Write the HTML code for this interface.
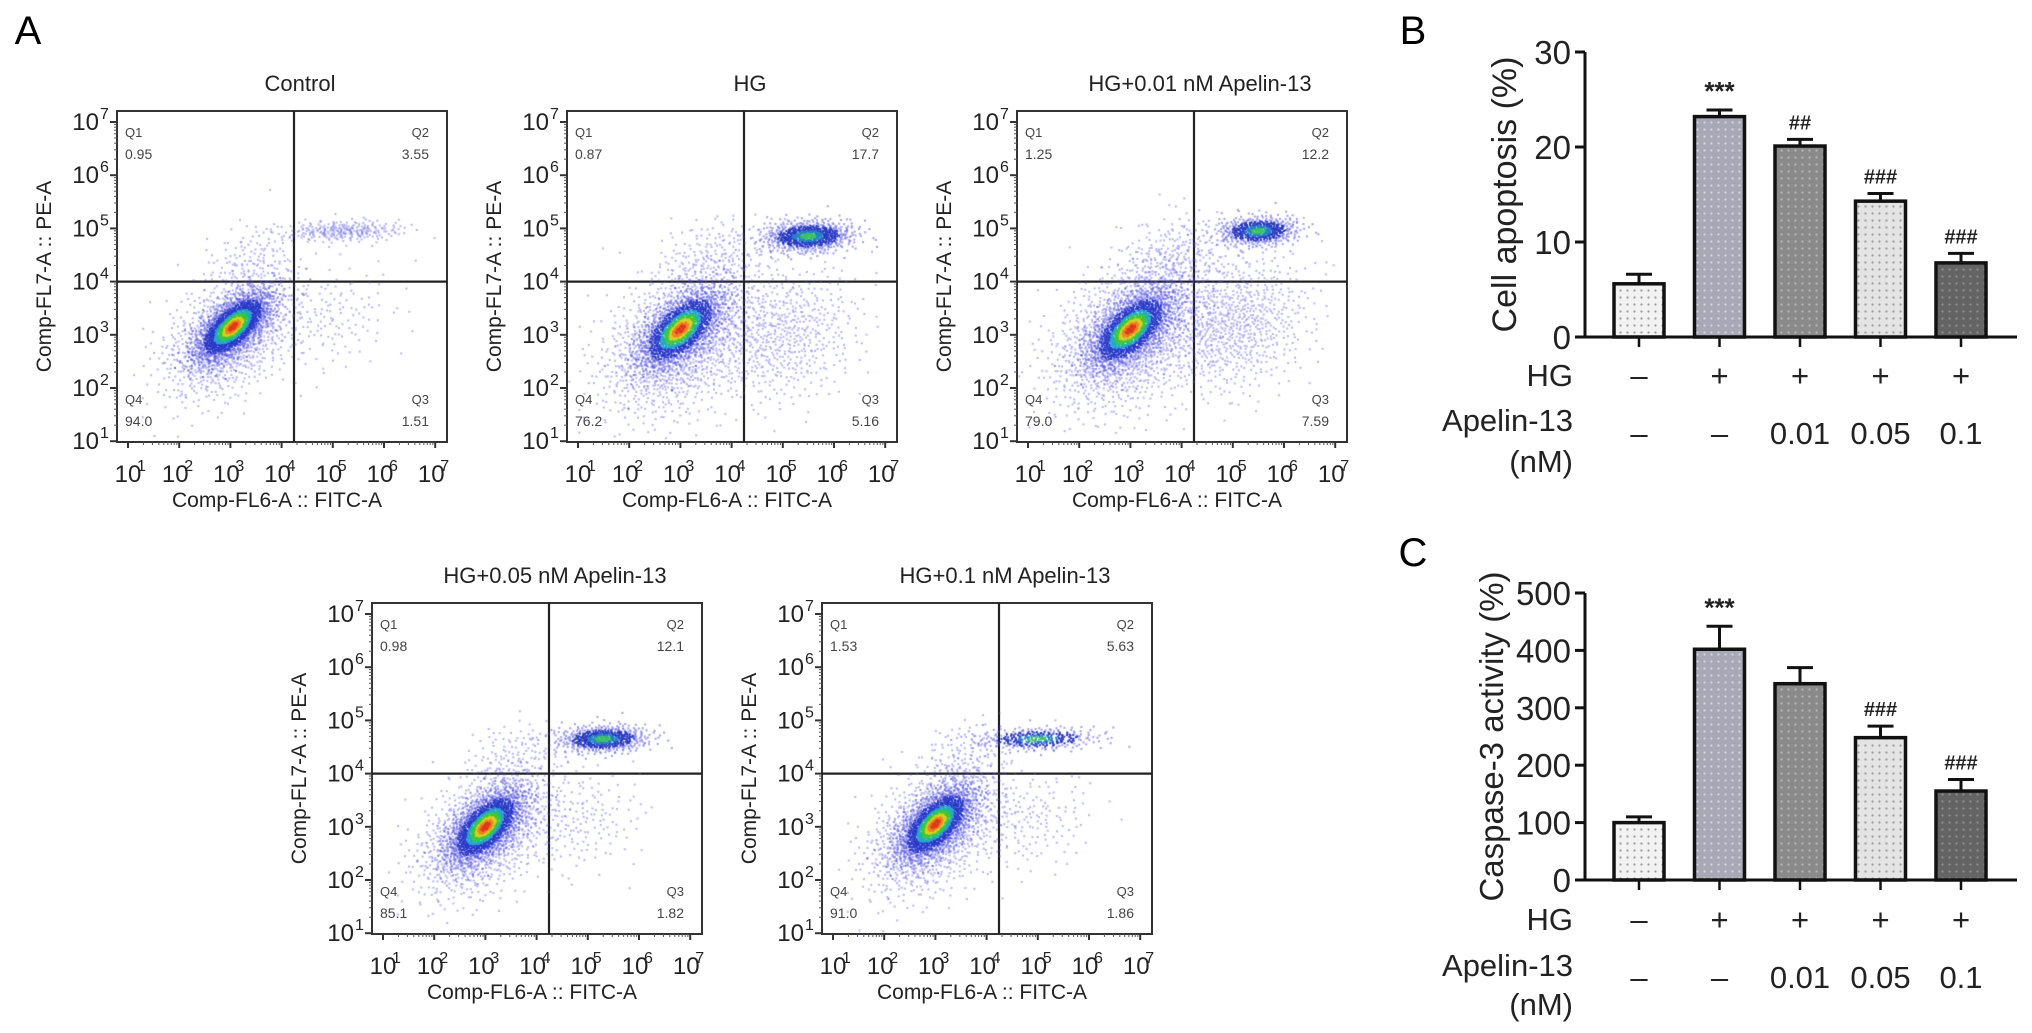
<!DOCTYPE html>
<html><head><meta charset="utf-8">
<style>
html,body{margin:0;padding:0;background:#fff;}
#wrap{position:relative;width:2032px;height:1033px;overflow:hidden;font-family:"Liberation Sans",Arial,sans-serif;}
svg{position:absolute;left:0;top:0;}
canvas{position:absolute;}
</style></head>
<body>
<div id="wrap">
<svg id="main" width="2032" height="1033" xmlns="http://www.w3.org/2000/svg">
<defs>
<pattern id="p0" width="7" height="7" patternUnits="userSpaceOnUse"><rect width="7" height="7" fill="#f2f2f2"/><circle cx="3.5" cy="3.5" r="1.1" fill="#999"/></pattern>
<pattern id="p1" width="7" height="7" patternUnits="userSpaceOnUse"><rect width="7" height="7" fill="#a9a8b6"/><circle cx="3.5" cy="3.5" r="1.1" fill="#d8d8e0"/></pattern>
<pattern id="p2" width="7" height="7" patternUnits="userSpaceOnUse"><rect width="7" height="7" fill="#8a8a8a"/><circle cx="3.5" cy="3.5" r="1.1" fill="#b8b8b8"/></pattern>
<pattern id="p3" width="7" height="7" patternUnits="userSpaceOnUse"><rect width="7" height="7" fill="#e4e4e4"/><circle cx="3.5" cy="3.5" r="1.1" fill="#9a9a9a"/></pattern>
<pattern id="p4" width="7" height="7" patternUnits="userSpaceOnUse"><rect width="7" height="7" fill="#646464"/><circle cx="3.5" cy="3.5" r="1.1" fill="#909090"/></pattern>
</defs>
<text x="28" y="44" font-size="40" text-anchor="middle">A</text>
<text x="1413" y="44" font-size="40" text-anchor="middle">B</text>
<text x="1413" y="566" font-size="40" text-anchor="middle">C</text>
</svg>
</div>
<script>
// ---------- Flow cytometry data ----------
const flowTitles = ["Control","HG","HG+0.01 nM Apelin-13","HG+0.05 nM Apelin-13","HG+0.1 nM Apelin-13"];
const q1Values = ["0.95","0.87","1.25","0.98","1.53"];
const q2Values = ["3.55","17.7","12.2","12.1","5.63"];
const q3Values = ["1.51","5.16","7.59","1.82","1.86"];
const q4Values = ["94.0","76.2","79.0","85.1","91.0"];
// clusters in log10 units: [cx, cy, sx, sy, rho, count, colourLevel]
const flowClusters = [
  [[3.05,3.15,0.38,0.34,0.65,1500,2],[3.0,3.0,0.65,0.6,0.45,1100,0],[5.2,4.95,0.6,0.1,0.1,260,0],[4.9,3.3,0.7,0.5,0.2,150,0],[3.4,4.4,0.45,0.35,0.3,120,0]],
  [[3.0,3.1,0.42,0.38,0.6,1300,2],[3.0,2.9,0.75,0.7,0.4,1400,0],[5.5,4.85,0.45,0.15,0.1,700,1],[5.0,3.0,0.75,0.65,0.2,600,0],[3.6,4.4,0.55,0.4,0.3,200,0]],
  [[3.0,3.1,0.42,0.38,0.6,1400,2],[3.0,3.0,0.75,0.7,0.4,1500,0],[5.5,4.95,0.4,0.14,0.1,520,1],[5.0,3.2,0.75,0.65,0.2,800,0],[3.8,4.4,0.55,0.45,0.3,260,0]],
  [[3.0,3.0,0.38,0.36,0.6,1400,2],[3.0,2.9,0.65,0.6,0.45,1200,0],[5.3,4.65,0.45,0.13,0.1,550,1],[4.8,3.1,0.65,0.5,0.2,180,0],[3.5,4.3,0.45,0.35,0.3,120,0]],
  [[3.0,3.05,0.38,0.36,0.6,1400,2],[3.0,2.95,0.65,0.6,0.45,1200,0],[5.0,4.65,0.6,0.11,0.1,320,1],[4.8,3.1,0.65,0.5,0.2,170,0],[3.5,4.3,0.45,0.35,0.3,120,0]]
];
const flowLefts = [117,567,1017,372,822];
const flowTops = [111,111,111,603,603];

// ---------- Bar chart data ----------
const groups = ["Control","HG","HG+0.01","HG+0.05","HG+0.1"];
const hgRow = ["\u2013","+","+","+","+"];
const apelinRow = ["\u2013","\u2013","0.01","0.05","0.1"];
const apoptosis = [5.6,23.2,20.1,14.3,7.8];
const apoptosisErr = [1.0,0.7,0.7,0.8,1.0];
const apoptosisSig = ["","***","##","###","###"];
const apoptosisTicks = [0,10,20,30];
const caspase = [100,402,342,248,155];
const caspaseErr = [10,40,28,20,20];
const caspaseSig = ["","***","","###","###"];
const caspaseTicks = [0,100,200,300,400,500];

const NS="http://www.w3.org/2000/svg";
const svg=document.getElementById('main');
const wrap=document.getElementById('wrap');
function el(tag,attrs,parent){const e=document.createElementNS(NS,tag);for(const k in attrs)e.setAttribute(k,attrs[k]);(parent||svg).appendChild(e);return e;}
function halton(i,b){let f=1,r=0;while(i>0){f/=b;r+=f*(i%b);i=Math.floor(i/b);}return r;}

const W=330,H=331;
function drawFlow(p){
  const L=flowLefts[p],T=flowTops[p];
  const g=el('g',{});
  
  
  const xs=v=>L+11+(v-1)*51.2;
  const ys=v=>T+11+(7-v)*53.2;
  const t=el('text',{x:L+W/2+18,y:T-20,'font-size':22,'text-anchor':'middle',fill:'#222'},g);
  t.textContent=flowTitles[p];
  
  
  const c=document.createElement('canvas');
  c.width=W;c.height=H;c.style.left=L+'px';c.style.top=T+'px';
  
  
  wrap.appendChild(c);
  const ctx=c.getContext('2d');
  const cl=flowClusters[p];
  const pts=[];
  let idx=1+p*11;
  cl.forEach((k)=>{
    for(let i=0;i<k[5];i++){
      idx++;
      const u1=Math.max(halton(idx,2),1e-4),u2=halton(idx,3);
      const r=Math.sqrt(-2*Math.log(u1));
      const z1=r*Math.cos(2*Math.PI*u2),z2=r*Math.sin(2*Math.PI*u2);
      const a=z1,b=k[4]*z1+Math.sqrt(1-k[4]*k[4])*z2;
      pts.push([k[0]+k[2]*a,k[1]+k[3]*b,k[6],z1*z1+z2*z2]);
    }
  });
  pts.sort((a,b)=>(a[2]-b[2])||(b[3]-a[3]));
  pts.forEach(q=>{
    const px=xs(q[0])-L,py=ys(q[1])-T;
    if(px<1||px>W-1||py<1||py>H-1)return;
    let col;const d=q[3];
    if(q[2]===2){
      col=d<0.05?'#e03818':d<0.14?'#f08020':d<0.28?'#d8d020':d<0.55?'#38c838':d<0.9?'#20a8c8':d<2.2?'#2838c8':'rgba(70,70,220,0.6)';
    }else if(q[2]===1){
      col=d<0.12?'#38c060':d<0.45?'#2080c8':d<1.8?'#2838c0':'rgba(80,80,225,0.55)';
    }else col='rgba(90,90,230,0.45)';
    ctx.fillStyle=col;
    ctx.fillRect(px-1,py-1,2,2);
  });
  el('rect',{x:L,y:T,width:W,height:H,fill:'none',stroke:'#333','stroke-width':2},g);
  const gx=L+177,gy=ys(4);
  el('line',{x1:gx,y1:T,x2:gx,y2:T+H,stroke:'#222','stroke-width':2.2},g);
  el('line',{x1:L,y1:gy,x2:L+W,y2:gy,stroke:'#222','stroke-width':2.2},g);
  for(let d=1;d<=7;d++){
    const yy=ys(d);
    el('line',{x1:L-7,y1:yy,x2:L,y2:yy,stroke:'#333','stroke-width':2},g);
    const tl=el('text',{x:L-18,y:yy+8,'font-size':24,'text-anchor':'end',fill:'#222'},g);
    tl.textContent='10';
    
    
    const te=el('text',{x:L-17,y:yy-3,'font-size':16,fill:'#222'},g);
    te.textContent=String(d);
    const xx=xs(d);
    el('line',{x1:xx,y1:T+H,x2:xx,y2:T+H+6,stroke:'#333','stroke-width':2},g);
    const xl=el('text',{x:xx-(d===1?0:4),y:T+H+40,'font-size':24,'text-anchor':'middle',fill:'#222'},g);
    xl.textContent='10';
    
    
    const xe=el('text',{x:xx+9-(d===1?0:4),y:T+H+29,'font-size':16,fill:'#222'},g);
    xe.textContent=String(d);
    if(d<7){
      for(let m=2;m<10;m++){
        const ly=ys(d+Math.log10(m)),lx=xs(d+Math.log10(m));
        el('line',{x1:L-3,y1:ly,x2:L,y2:ly,stroke:'#555','stroke-width':1},g);
        el('line',{x1:lx,y1:T+H,x2:lx,y2:T+H+3,stroke:'#555','stroke-width':1},g);
      }
    }
  }
  const xt=el('text',{x:L+160,y:T+H+65,'font-size':21,'text-anchor':'middle',fill:'#222'},g);
  xt.textContent='Comp-FL6-A :: FITC-A';
  
  
  const yt=el('text',{x:0,y:0,'font-size':21,'text-anchor':'middle',fill:'#222',transform:'translate('+(L-66)+','+(T+H/2)+') rotate(-90)'},g);
  yt.textContent='Comp-FL7-A :: PE-A';
  
  
  const ql=[['Q1',q1Values[p],L+8,T+26,'start'],['Q2',q2Values[p],L+W-18,T+26,'end'],['Q4',q4Values[p],L+8,T+H-38,'start'],['Q3',q3Values[p],L+W-18,T+H-38,'end']];
  ql.forEach(q=>{
    const a=el('text',{x:q[2],y:q[3],'font-size':13,'text-anchor':q[4],fill:'#444'},g);
    a.textContent=q[0];
    
    
    const b=el('text',{x:q[2],y:q[3]+22,'font-size':14,'text-anchor':q[4],fill:'#444'},g);
    b.textContent=q[1];
    
    
  });
}
for(let p=0;p<5;p++)drawFlow(p);

function drawBars(cfg){
  const g=el('g',{});
  
  
  const ax=1585,axEnd=2017;
  const yv=v=>cfg.y0-(v/cfg.max)*(cfg.y0-cfg.yTop);
  const xc=i=>1639+i*80.5;
  cfg.vals.forEach((v,i)=>{
    const top=yv(v),et=yv(v+cfg.err[i]),cx=xc(i);
    const el1=el('line',{x1:cx,y1:top,x2:cx,y2:et,stroke:'#111','stroke-width':3},g);
    
    
    el('line',{x1:cx-13,y1:et,x2:cx+13,y2:et,stroke:'#111','stroke-width':3},g);
    const r=el('rect',{x:cx-25,y:top,width:50,height:cfg.y0-top,fill:'url(#p'+i+')',stroke:'#111','stroke-width':3.5},g);
    
    
    if(cfg.sig[i]){
      const s=el('text',{x:cx,y:et-10,'font-size':cfg.sig[i][0]==='*'?26:20,'font-weight':'bold','text-anchor':'middle',fill:'#222'},g);
      s.textContent=cfg.sig[i];
      
      
    }
    el('line',{x1:cx,y1:cfg.y0,x2:cx,y2:cfg.y0+10,stroke:'#111','stroke-width':2.5},g);
    const h=el('text',{x:cx,y:cfg.hgY,'font-size':31,'text-anchor':'middle',fill:'#222'},g);
    h.textContent=hgRow[i];
    
    
    const a=el('text',{x:cx,y:cfg.apY,'font-size':31,'text-anchor':'middle',fill:'#222'},g);
    a.textContent=apelinRow[i];
    
    
  });
  el('line',{x1:ax,y1:cfg.yTop,x2:ax,y2:cfg.y0,stroke:'#111','stroke-width':3},g);
  el('line',{x1:ax-10,y1:cfg.y0,x2:axEnd,y2:cfg.y0,stroke:'#111','stroke-width':3},g);
  cfg.ticks.forEach(t=>{
    const yy=yv(t);
    el('line',{x1:ax-10,y1:yy,x2:ax,y2:yy,stroke:'#111','stroke-width':3},g);
    const tl=el('text',{x:ax-14,y:yy+12,'font-size':33,'text-anchor':'end',fill:'#222'},g);
    tl.textContent=String(t);
    
    
  });
  const yt=el('text',{x:0,y:0,'font-size':cfg.titleSize,'text-anchor':'middle',fill:'#222',transform:'translate('+cfg.titleX+','+((cfg.y0+cfg.yTop)/2)+') rotate(-90)'},g);
  yt.textContent=cfg.title;
  
  
  const hl=el('text',{x:1573,y:cfg.hgY,'font-size':31,'text-anchor':'end',fill:'#222'},g);
  hl.textContent='HG';
  
  
  const al=el('text',{x:1573,y:cfg.apLY,'font-size':31,'text-anchor':'end',fill:'#222'},g);
  al.textContent='Apelin-13';
  
  
  const nl=el('text',{x:1573,y:cfg.nmY,'font-size':31,'text-anchor':'end',fill:'#222'},g);
  nl.textContent='(nM)';
  
  
}
drawBars({name:'apoptosis-chart',vals:apoptosis,err:apoptosisErr,sig:apoptosisSig,ticks:apoptosisTicks,max:30,y0:337,yTop:52,title:'Cell apoptosis (%)',titleSize:34,titleX:1516,hgY:386,apLY:431,apY:444,nmY:472});
drawBars({name:'caspase-chart',vals:caspase,err:caspaseErr,sig:caspaseSig,ticks:caspaseTicks,max:500,y0:880,yTop:593,title:'Caspase-3 activity (%)',titleSize:33,titleX:1503,hgY:930,apLY:976,apY:988,nmY:1015});
</script>
</body></html>
